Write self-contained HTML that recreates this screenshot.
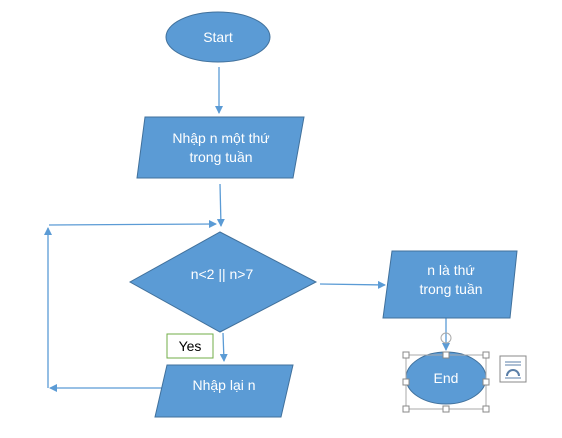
<!DOCTYPE html>
<html><head><meta charset="utf-8"><style>
body{margin:0;background:#fff;}
svg{display:block;}
text{font-family:"Liberation Sans",sans-serif;fill:#fff;font-size:14px;text-anchor:middle;}
</style></head><body>
<svg width="562" height="438" viewBox="0 0 562 438" xmlns="http://www.w3.org/2000/svg">
<defs><marker id="a" markerWidth="8" markerHeight="8" refX="7" refY="4" orient="auto" markerUnits="userSpaceOnUse"><path d="M0,0 L8,4 L0,8 z" fill="#5b9bd5"/></marker></defs>
<g stroke="#5b9bd5" stroke-width="1.3" fill="none">
<line x1="219" y1="67" x2="219" y2="113" marker-end="url(#a)"/>
<line x1="220" y1="184" x2="221" y2="226" marker-end="url(#a)"/>
<line x1="320" y1="284" x2="385" y2="285" marker-end="url(#a)"/>
<line x1="223" y1="333" x2="224" y2="361" marker-end="url(#a)"/>
<line x1="162" y1="388" x2="50" y2="388" marker-end="url(#a)"/>
<line x1="48" y1="388" x2="48" y2="228" marker-end="url(#a)"/>
<line x1="49" y1="225" x2="216" y2="224" marker-end="url(#a)"/>
<line x1="446" y1="318" x2="446" y2="350" marker-end="url(#a)"/>
</g>
<g fill="#5b9bd5" stroke="#41719c" stroke-width="1">
<ellipse cx="218" cy="37" rx="52" ry="25"/>
<polygon points="145,117 304,117 293,178 137,178"/>
<polygon points="220,232 316,282 220,332 130,282"/>
<polygon points="392,251 517,251 510,318 383,318"/>
<polygon points="167,365 293,365 281,417 155,417"/>
<ellipse cx="446" cy="378" rx="40" ry="26"/>
</g>
<text x="218" y="42">Start</text>
<text x="221" y="143">Nhập n một thứ</text>
<text x="221" y="162">trong tuần</text>
<text x="222" y="279">n&lt;2 || n&gt;7</text>
<text x="451" y="275">n là thứ</text>
<text x="451" y="294">trong tuần</text>
<text x="224" y="390">Nhập lại n</text>
<text x="446" y="383">End</text>
<rect x="167" y="334" width="46" height="24" fill="#fff" stroke="#70ad47" stroke-width="1"/>
<text x="190" y="351" style="fill:#000">Yes</text>
<g fill="none" stroke="#aaa" stroke-width="1">
<rect x="406" y="355" width="80" height="54"/>
<circle cx="446" cy="338" r="5"/>
</g>
<g fill="#fff" stroke="#888" stroke-width="1">
<rect x="403" y="352" width="6" height="6"/><rect x="443" y="352" width="6" height="6"/><rect x="483" y="352" width="6" height="6"/>
<rect x="403" y="379" width="6" height="6"/><rect x="483" y="379" width="6" height="6"/>
<rect x="403" y="406" width="6" height="6"/><rect x="443" y="406" width="6" height="6"/><rect x="483" y="406" width="6" height="6"/>
<rect x="500" y="356" width="26" height="26"/>
</g>
<g stroke="#5b7fa8" stroke-width="1" fill="none">
<line x1="505" y1="362" x2="521" y2="362"/><line x1="505" y1="365" x2="521" y2="365"/>
<path d="M507,376 A6,6 0 0 1 519,376" stroke-width="2"/>
<line x1="505" y1="378" x2="521" y2="378"/>
</g>
</svg>
</body></html>
